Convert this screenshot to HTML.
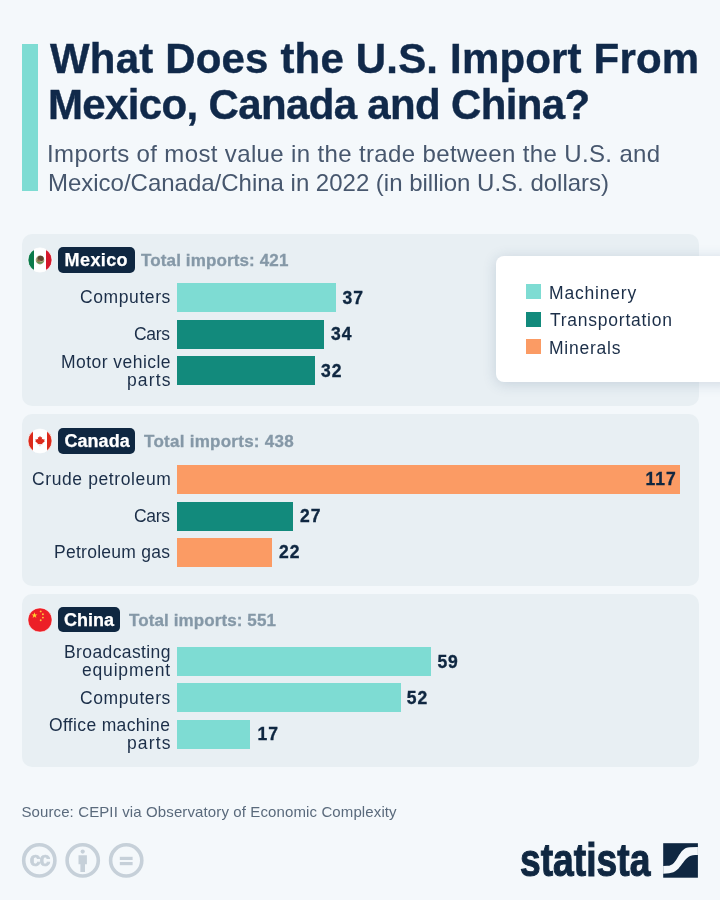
<!DOCTYPE html>
<html lang="en">
<head>
<meta charset="utf-8">
<title>What Does the U.S. Import From Mexico, Canada and China?</title>
<style>
*{margin:0;padding:0;box-sizing:border-box}
html,body{width:720px;height:900px;overflow:hidden}
body{background:#f4f8fb;font-family:"Liberation Sans",sans-serif;color:#0f2741;position:relative}
.x{position:absolute;white-space:nowrap}
.ti{font-weight:bold;color:#10294a;-webkit-text-stroke:.4px #10294a}
.su{color:#47576e}
.bt{font-weight:bold;color:#fff;-webkit-text-stroke:.25px #fff}
.to{font-weight:bold;color:#8598a7;-webkit-text-stroke:.3px #8598a7}
.la{color:#1b2e48}
.va{font-weight:bold;color:#0f2741;-webkit-text-stroke:.35px #0f2741}
.lg{color:#1b2e48}
.sr{color:#5a6a7c}
.accent{position:absolute;left:22px;top:44px;width:16px;height:147px;background:#7edcd3}
.card{position:absolute;left:22px;width:677px;background:#e8eff3;border-radius:10px}
.flag{position:absolute;left:28px;width:24px;height:24px;overflow:visible}
.badge{position:absolute;left:57.5px;background:#0f2741;border-radius:5px}
.bar{position:absolute;left:177.3px;height:29px}
.m{background:#7edcd3}.t{background:#128a7c}.o{background:#fb9b64}
.legend{position:absolute;left:496px;top:256px;width:240px;height:126px;background:#fff;border-radius:8px;box-shadow:0 2px 14px rgba(40,70,110,.18)}
.sw{position:absolute;left:525.75px;width:15.5px;height:15px}
.ic{position:absolute;left:0;top:0}
#logo{position:absolute;white-space:nowrap;font-weight:bold;color:#0f2741;transform-origin:0 0}
</style>
</head>
<body>
<div class="accent"></div>
<!-- cards -->
<div class="card" style="top:234px;height:171.500px"></div>
<div class="card" style="top:414px;height:172px"></div>
<div class="card" style="top:594px;height:173px"></div>

<!-- Mexico -->
<svg class="flag" style="top:248px" viewBox="0 0 24 24"><defs><clipPath id="fc"><circle cx="12" cy="12" r="12"/></clipPath></defs><g clip-path="url(#fc)"><rect width="6" height="24" fill="#0b7a4b"/><rect x="6" width="12" height="24" fill="#fff"/><rect x="18" width="6" height="24" fill="#d5172b"/><ellipse cx="12" cy="12" rx="4.300" ry="4.400" fill="#a9a27c"/><path d="M8 13.200q4 5.200 8 0q-4 2-8 0z" fill="#5f9250"/><ellipse cx="12.600" cy="10.400" rx="3.100" ry="2.600" fill="#5e4630"/><ellipse cx="10.800" cy="12.600" rx="1.600" ry="1.200" fill="#8a6a44"/></g><circle cx="12" cy="12" r="12.100" fill="none" stroke="#fff" stroke-width=".9" opacity=".9"/></svg>
<div class="badge" style="top:247px;width:77.500px;height:25.500px"></div>
<div class="bar m" style="top:283.4px;width:158.7px"></div>
<div class="bar t" style="top:320px;width:146.4px"></div>
<div class="bar t" style="top:356.400px;width:137.7px"></div>

<!-- Canada -->
<svg class="flag" style="top:428.800px" viewBox="0 0 24 24"><g clip-path="url(#fc)"><rect width="24" height="24" fill="#fff"/><rect width="5" height="24" fill="#dc2a1b"/><rect x="19" width="5" height="24" fill="#dc2a1b"/><path transform="translate(12 11.500) scale(.8) translate(-12 -12)" d="M12 6l1.200 2.300 1.500-.6-.5 3.200 1.600-1.200.3 1.200 2-.2-1 1.800.9.600-3.200 2.400.4 1.300-3-.4v2.800h-.4v-2.800l-3 .4.400-1.300-3.200-2.400.9-.6-1-1.800 2 .2.300-1.200 1.600 1.200-.5-3.200 1.500.6z" fill="#dc2a1b"/></g><circle cx="12" cy="12" r="12" fill="none" stroke="#fff" stroke-width=".8" opacity=".85"/></svg>
<div class="badge" style="top:428px;width:77.500px;height:26px"></div>
<div class="bar o" style="top:465px;width:503px"></div>
<div class="bar t" style="top:501.700px;width:116.100px"></div>
<div class="bar o" style="top:538px;width:94.600px"></div>

<!-- China -->
<svg class="flag" style="top:607.600px" viewBox="0 0 24 24"><g clip-path="url(#fc)"><rect width="24" height="24" fill="#ec1f27"/><path transform="translate(6.500 7.300) scale(.8) translate(-7.500 -9.300)" d="M7.500 5.500l.9 2.700h2.800l-2.300 1.700.9 2.700-2.300-1.700-2.300 1.700.9-2.700-2.300-1.700h2.800z" fill="#ffd92e"/><circle cx="12.700" cy="3.400" r=".95" fill="#ffc63a"/><circle cx="14.900" cy="6.200" r=".95" fill="#ffc63a"/><circle cx="14.900" cy="9.600" r=".95" fill="#ffc63a"/><circle cx="12.700" cy="12.200" r=".95" fill="#ffc63a"/></g><circle cx="12" cy="12" r="12.100" fill="none" stroke="#fff" stroke-width=".8" opacity=".7"/></svg>
<div class="badge" style="top:607px;width:62.500px;height:25px"></div>
<div class="bar m" style="top:647px;width:253.700px"></div>
<div class="bar m" style="top:683.400px;width:223.600px"></div>
<div class="bar m" style="top:719.600px;width:73.100px"></div>

<!-- Legend -->
<div class="legend"></div>
<div class="sw m" style="top:284.250px"></div>
<div class="sw t" style="top:312px"></div>
<div class="sw o" style="top:339.250px"></div>

<!-- Footer icons -->
<svg class="ic" width="720" height="900" viewBox="0 0 720 900" style="pointer-events:none">
<g fill="none" stroke="#c6d0d9" stroke-width="3.600">
<circle cx="39.300" cy="860.400" r="15.600"/><circle cx="82.700" cy="860.400" r="15.600"/><circle cx="126.200" cy="860.400" r="15.600"/>
</g>
<text x="39.600" y="866.300" text-anchor="middle" font-family="Liberation Sans, sans-serif" font-weight="bold" font-size="19.500" letter-spacing="-0.900" fill="#c6d0d9" stroke="#c6d0d9" stroke-width="0.700">cc</text>
<g fill="#c6d0d9">
<circle cx="82.700" cy="851.600" r="2.100"/>
<path d="M78.500 855.300h8.400v9h-1.900v7.600h-4.600v-7.600h-1.900z"/>
<rect x="119.800" y="856.800" width="12.800" height="3.200"/>
<rect x="119.800" y="862" width="12.800" height="3.200"/>
</g>
<!-- statista mark -->
<g transform="translate(663.200 843.200)">
<rect width="34.700" height="34.500" fill="#0f2741"/>
<path transform="scale(34.700 34.500)" d="M0 .664L.12 .655C.44 .655 .42 .115 .77 .115L1 .107L1 .34L.92 .345C.55 .345 .55 .85 .17 .872L0 .888Z" fill="#f4f8fb"/>
</g>
</svg>
<div id="logo" style="left:519.600px;top:832px;font-size:47px;line-height:56px;-webkit-text-stroke:1.100px #0f2741;transform:scale(.792,1)">statista</div>

<!-- text -->
<div id="t1" class="x ti" style="left:50.00px;top:34.45px;font-size:42px;line-height:50px;letter-spacing:0.176px">What Does the U.S. Import From</div>
<div id="t2" class="x ti" style="left:48.00px;top:79.75px;font-size:42px;line-height:50px;letter-spacing:-0.650px">Mexico, Canada and China?</div>
<div id="s1" class="x su" style="left:47.00px;top:139.48px;font-size:24px;line-height:29px;letter-spacing:0.361px">Imports of most value in the trade between the U.S. and</div>
<div id="s2" class="x su" style="left:48.00px;top:167.88px;font-size:24px;line-height:29px;letter-spacing:-0.012px">Mexico/Canada/China in 2022 (in billion U.S. dollars)</div>
<div id="b1" class="x bt" style="left:64.60px;top:249.06px;font-size:18px;line-height:22px;letter-spacing:0.400px">Mexico</div>
<div id="b2" class="x bt" style="left:64.40px;top:429.96px;font-size:18px;line-height:22px;letter-spacing:0.060px">Canada</div>
<div id="b3" class="x bt" style="left:64.00px;top:609.06px;font-size:18px;line-height:22px;letter-spacing:0.025px">China</div>
<div id="i1" class="x to" style="left:141.00px;top:251.36px;font-size:17px;line-height:20px;letter-spacing:0.132px">Total imports: 421</div>
<div id="i2" class="x to" style="left:144.00px;top:432.11px;font-size:17px;line-height:20px;letter-spacing:0.265px">Total imports: 438</div>
<div id="i3" class="x to" style="left:129.00px;top:611.36px;font-size:17px;line-height:20px;letter-spacing:0.103px">Total imports: 551</div>
<div id="l1" class="x la" style="left:80.00px;top:287.44px;font-size:17.5px;line-height:21px;letter-spacing:0.594px">Computers</div>
<div id="l2" class="x la" style="left:134.00px;top:323.94px;font-size:17.5px;line-height:21px;letter-spacing:-0.333px">Cars</div>
<div id="l3" class="x la" style="left:61.00px;top:352.44px;font-size:17.5px;line-height:21px;letter-spacing:0.458px">Motor vehicle</div>
<div id="l4" class="x la" style="left:127.00px;top:370.44px;font-size:17.5px;line-height:21px;letter-spacing:1.125px">parts</div>
<div id="l5" class="x la" style="left:32.00px;top:469.44px;font-size:17.5px;line-height:21px;letter-spacing:0.607px">Crude petroleum</div>
<div id="l6" class="x la" style="left:134.00px;top:505.69px;font-size:17.5px;line-height:21px;letter-spacing:-0.333px">Cars</div>
<div id="l7" class="x la" style="left:54.00px;top:542.44px;font-size:17.5px;line-height:21px;letter-spacing:0.271px">Petroleum gas</div>
<div id="l8" class="x la" style="left:64.00px;top:642.44px;font-size:17.5px;line-height:21px;letter-spacing:0.386px">Broadcasting</div>
<div id="l9" class="x la" style="left:82.00px;top:660.19px;font-size:17.5px;line-height:21px;letter-spacing:0.812px">equipment</div>
<div id="l10" class="x la" style="left:80.00px;top:688.19px;font-size:17.5px;line-height:21px;letter-spacing:0.594px">Computers</div>
<div id="l11" class="x la" style="left:49.00px;top:714.94px;font-size:17.5px;line-height:21px;letter-spacing:0.346px">Office machine</div>
<div id="l12" class="x la" style="left:127.00px;top:733.19px;font-size:17.5px;line-height:21px;letter-spacing:1.125px">parts</div>
<div id="v1" class="x va" style="left:342.60px;top:287.94px;font-size:17.5px;line-height:21px;letter-spacing:1.000px">37</div>
<div id="v2" class="x va" style="left:331.00px;top:324.44px;font-size:17.5px;line-height:21px;letter-spacing:1.000px">34</div>
<div id="v3" class="x va" style="left:321.00px;top:360.94px;font-size:17.5px;line-height:21px;letter-spacing:1.000px">32</div>
<div id="v4" class="x va" style="left:645.40px;top:469.24px;font-size:17.5px;line-height:21px;letter-spacing:1.000px">117</div>
<div id="v5" class="x va" style="left:300.00px;top:506.44px;font-size:17.5px;line-height:21px;letter-spacing:1.000px">27</div>
<div id="v6" class="x va" style="left:279.00px;top:542.44px;font-size:17.5px;line-height:21px;letter-spacing:1.000px">22</div>
<div id="v7" class="x va" style="left:437.40px;top:651.74px;font-size:17.5px;line-height:21px;letter-spacing:1.000px">59</div>
<div id="v8" class="x va" style="left:406.80px;top:688.14px;font-size:17.5px;line-height:21px;letter-spacing:1.000px">52</div>
<div id="v9" class="x va" style="left:257.60px;top:724.44px;font-size:17.5px;line-height:21px;letter-spacing:1.000px">17</div>
<div id="g1" class="x lg" style="left:549.00px;top:282.94px;font-size:17.5px;line-height:21px;letter-spacing:0.812px">Machinery</div>
<div id="g2" class="x lg" style="left:550.00px;top:310.44px;font-size:17.5px;line-height:21px;letter-spacing:0.750px">Transportation</div>
<div id="g3" class="x lg" style="left:549.00px;top:337.94px;font-size:17.5px;line-height:21px;letter-spacing:0.750px">Minerals</div>
<div id="src" class="x sr" style="left:21.40px;top:803.10px;font-size:15px;line-height:18px;letter-spacing:0.116px">Source: CEPII via Observatory of Economic Complexity</div>
</body>
</html>
